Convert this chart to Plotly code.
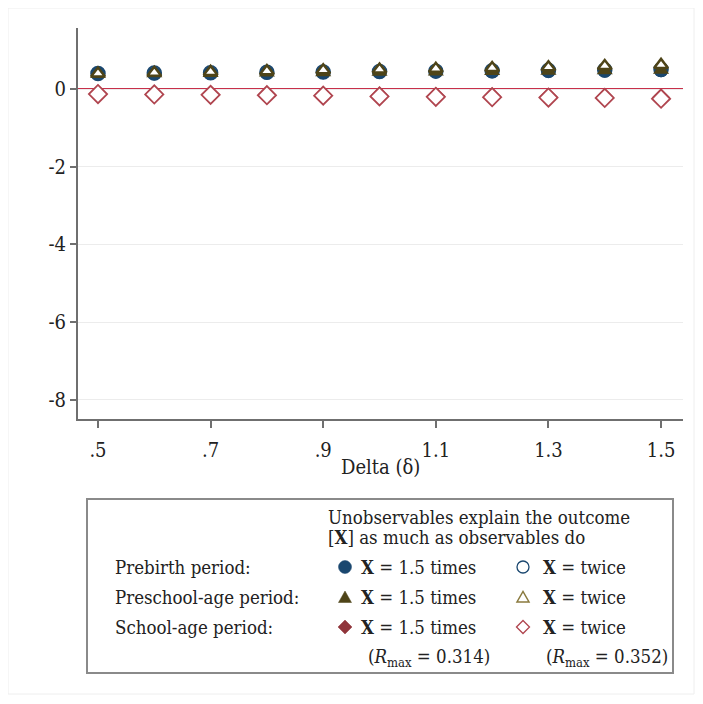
import plotly.graph_objects as go

# ---- data ----
delta = [0.5, 0.6, 0.7, 0.8, 0.9, 1.0, 1.1, 1.2, 1.3, 1.4, 1.5]
prebirth_15 = [0.40, 0.40, 0.41, 0.42, 0.43, 0.44, 0.45, 0.45, 0.46, 0.47, 0.48]
prebirth_2 = [0.40, 0.41, 0.42, 0.43, 0.44, 0.45, 0.46, 0.47, 0.48, 0.49, 0.50]
preschool_15 = [0.38, 0.39, 0.40, 0.41, 0.42, 0.43, 0.44, 0.45, 0.46, 0.47, 0.48]
preschool_2 = [0.40, 0.42, 0.44, 0.46, 0.48, 0.50, 0.52, 0.54, 0.56, 0.59, 0.62]
school_15 = [-0.12, -0.13, -0.14, -0.15, -0.16, -0.17, -0.18, -0.19, -0.20, -0.21, -0.22]
school_2 = [-0.13, -0.14, -0.15, -0.16, -0.17, -0.19, -0.20, -0.21, -0.22, -0.23, -0.25]

x_ticks = [0.5, 0.7, 0.9, 1.1, 1.3, 1.5]
x_ticktext = [".5", ".7", ".9", "1.1", "1.3", "1.5"]
y_ticks = [0, -2, -4, -6, -8]
y_ticktext = ["0", "-2", "-4", "-6", "-8"]

row_labels = ["Prebirth period:", "Preschool-age period:", "School-age period:"]
header_1 = "Unobservables explain the outcome"
header_2 = "[<b>X</b>] as much as observables do"
col_labels = ["<b>X</b> = 1.5 times", "<b>X</b> = twice"]
rmax_labels = ["(<i>R</i><sub>max</sub> = 0.314)", "(<i>R</i><sub>max</sub> = 0.352)"]

# ---- styles ----
FONT = "DejaVu Serif Condensed, Liberation Serif, serif"
NAVY = "#1a476f"
OLIVE = "#4e4418"
OLIVE_LT = "#8a7a3e"
MAROON = "#90353b"
MAROON_LT = "#b0454f"
AXIS = "#6f6f6f"
TXT = "#222222"
W, H = 703, 704
OFF = 8  # page body margin: screen px = figure px + OFF
L, R, T, B = 78 - OFF, 683 - OFF, 28 - OFF, 419 - OFF  # plot area in figure pixels


def px(x):
    return (x - OFF - L) / (R - L)


def py(y):
    return (B - (y - OFF)) / (B - T)


fig = go.Figure()

series = [
    (prebirth_15, dict(symbol="circle", size=14, color=NAVY, line=dict(width=0))),
    (prebirth_2, dict(symbol="circle-open", size=14, color=NAVY, line=dict(width=1.5))),
    (preschool_15, dict(symbol="triangle-up", size=14, color=OLIVE, line=dict(width=0))),
    (preschool_2, dict(symbol="triangle-up", size=12, color="white", line=dict(width=2.5, color=OLIVE))),
    (school_15, dict(symbol="diamond", size=14, color=MAROON, line=dict(width=0))),
    (school_2, dict(symbol="diamond", size=14, color="white", line=dict(width=1.8, color=MAROON_LT))),
]
for ys, mk in series:
    fig.add_trace(go.Scatter(x=delta, y=ys, mode="markers", marker=mk,
                             showlegend=False, hoverinfo="skip"))

fig.update_layout(
    width=W, height=H,
    margin=dict(l=L, r=W - R, t=T, b=H - B, autoexpand=False),
    paper_bgcolor="white", plot_bgcolor="white",
    font=dict(family=FONT, color=TXT),
    xaxis=dict(range=[0.4645, 1.539],
               tickvals=x_ticks, ticktext=x_ticktext, ticks="outside", ticklen=7,
               tickwidth=1.5, tickcolor=AXIS, showline=True, linecolor=AXIS, linewidth=2,
               showgrid=False, zeroline=False, tickfont=dict(size=20, family=FONT, color=TXT),
               ticklabelstandoff=5, automargin=False),
    yaxis=dict(range=[-8.49, 1.57],
               tickvals=y_ticks, ticktext=y_ticktext, ticks="outside", ticklen=6,
               tickwidth=1.5, tickcolor=AXIS, showline=True, linecolor=AXIS, linewidth=2,
               showgrid=True, gridcolor="#ececec", gridwidth=1, zeroline=False,
               tickfont=dict(size=20, family=FONT, color=TXT), automargin=False),
)

# faint outer frame of the graph region
fig.add_shape(type="rect", xref="paper", yref="paper", x0=px(8), x1=px(694), y0=py(8), y1=py(694),
              line=dict(color="#eeeeee", width=1), layer="below")

# zero reference line
fig.add_shape(type="line", xref="paper", yref="y", x0=0, x1=1, y0=0, y1=0,
              line=dict(color="#c8304a", width=2.2), layer="below")

# x axis title
fig.add_annotation(text="Delta (δ)", xref="paper", yref="paper", x=px((78 + 683) / 2), y=py(467),
                   showarrow=False, font=dict(size=20, family=FONT, color=TXT),
                   xanchor="center", yanchor="middle")

# legend box
fig.add_shape(type="rect", xref="paper", yref="paper", x0=px(87), x1=px(673), y0=py(499), y1=py(673),
              line=dict(color="#8a8a8a", width=2), fillcolor="white")

LF = dict(size=18.5, family=FONT, color=TXT)


def text(t, x, y):
    fig.add_annotation(text=t, xref="paper", yref="paper", x=px(x), y=py(y), showarrow=False,
                       font=LF, xanchor="left", yanchor="middle")


text(header_1, 326, 517)
text(header_2, 326, 537)

row_y = [567, 597, 627]
col_mx = [345, 523]
col_tx = [359, 541]
for lab, ry in zip(row_labels, row_y):
    text(lab, 113, ry)
    for cl, tx in zip(col_labels, col_tx):
        text(cl, tx, ry)
for lab, tx in zip(rmax_labels, [366, 544]):
    text(lab, tx, 658)


# legend keys drawn as shapes (pixel positions inside the legend box)
def circle(cx, cy, r, fill, line, lw):
    fig.add_shape(type="circle", xref="paper", yref="paper",
                  x0=px(cx - r), x1=px(cx + r), y0=py(cy + r), y1=py(cy - r),
                  fillcolor=fill, line=dict(color=line, width=lw))


def poly(pts, fill, line, lw):
    path = "M " + " L ".join(f"{px(a):.5f},{py(b):.5f}" for a, b in pts) + " Z"
    fig.add_shape(type="path", xref="paper", yref="paper", path=path,
                  fillcolor=fill, line=dict(color=line, width=lw))


cx1, cx2 = col_mx
circle(cx1, row_y[0], 6.5, NAVY, NAVY, 0.5)
circle(cx2, row_y[0], 6, "white", NAVY, 1.3)
poly([(cx1 - 6.5, row_y[1] + 5.5), (cx1 + 6.5, row_y[1] + 5.5), (cx1, row_y[1] - 6)], OLIVE, OLIVE, 0.5)
poly([(cx2 - 6, row_y[1] + 5), (cx2 + 6, row_y[1] + 5), (cx2, row_y[1] - 5.5)], "white", OLIVE_LT, 1.5)
poly([(cx1 - 7, row_y[2]), (cx1, row_y[2] - 7), (cx1 + 7, row_y[2]), (cx1, row_y[2] + 7)], MAROON, MAROON, 0.5)
poly([(cx2 - 6.5, row_y[2]), (cx2, row_y[2] - 6.5), (cx2 + 6.5, row_y[2]), (cx2, row_y[2] + 6.5)], "white", MAROON_LT, 1.3)

fig.write_html("out.html")
